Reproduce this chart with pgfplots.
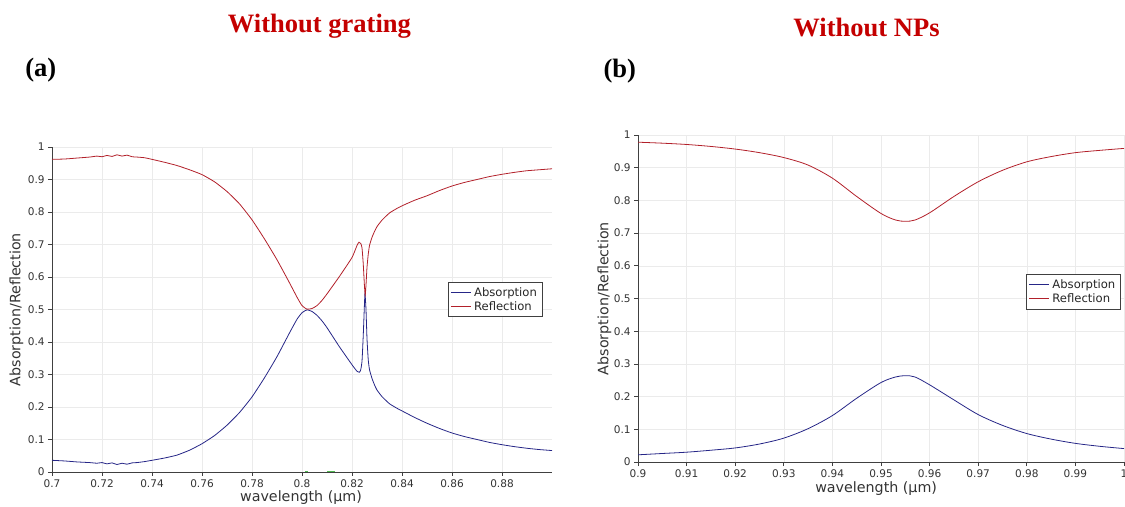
\documentclass[border=0pt]{standalone}
\usepackage{fontspec}
\setmainfont{Liberation Serif}
\newfontfamily\dv{DejaVu Sans}
\usepackage{pgfplots}
\pgfplotsset{compat=1.18}
\usepackage{pgfplotstable}

\definecolor{absblue}{RGB}{38,38,135}
\definecolor{refred}{RGB}{178,32,42}
\definecolor{titlered}{RGB}{196,0,0}
\definecolor{tgreen}{RGB}{80,185,80}

% Spectra without grating
\pgfplotstableread{
wl R
0.700 0.962
0.705 0.963
0.710 0.966
0.715 0.969
0.718 0.972
0.720 0.970
0.722 0.974
0.724 0.971
0.726 0.976
0.728 0.972
0.730 0.975
0.732 0.970
0.734 0.969
0.737 0.967
0.740 0.962
0.745 0.953
0.750 0.943
0.755 0.930
0.760 0.915
0.765 0.893
0.770 0.863
0.775 0.825
0.780 0.776
0.785 0.717
0.790 0.653
0.795 0.582
0.798 0.538
0.800 0.512
0.802 0.501
0.804 0.503
0.806 0.512
0.808 0.528
0.810 0.548
0.815 0.602
0.820 0.660
0.822 0.697
0.8228 0.707
0.8235 0.703
0.824 0.690
0.8245 0.640
0.825 0.570
0.8253 0.545
0.8256 0.575
0.826 0.630
0.8265 0.670
0.827 0.697
0.828 0.722
0.829 0.740
0.830 0.755
0.832 0.775
0.835 0.797
0.838 0.811
0.840 0.819
0.845 0.836
0.850 0.850
0.855 0.866
0.860 0.880
0.865 0.891
0.870 0.900
0.875 0.909
0.880 0.916
0.885 0.922
0.890 0.927
0.895 0.930
0.900 0.933
}\gratR
\pgfplotstableread{
wl A
0.700 0.036
0.705 0.034
0.710 0.031
0.715 0.029
0.718 0.027
0.720 0.029
0.722 0.025
0.724 0.028
0.726 0.023
0.728 0.027
0.730 0.024
0.732 0.028
0.734 0.029
0.737 0.032
0.740 0.036
0.745 0.043
0.750 0.052
0.755 0.067
0.760 0.087
0.765 0.112
0.770 0.144
0.775 0.183
0.780 0.231
0.785 0.290
0.790 0.355
0.795 0.428
0.798 0.470
0.800 0.490
0.802 0.499
0.804 0.494
0.806 0.482
0.808 0.465
0.810 0.444
0.815 0.385
0.820 0.330
0.822 0.310
0.823 0.307
0.8235 0.315
0.824 0.340
0.8245 0.420
0.825 0.520
0.8252 0.550
0.8256 0.500
0.826 0.410
0.8265 0.345
0.827 0.315
0.828 0.288
0.829 0.268
0.830 0.252
0.832 0.232
0.835 0.210
0.838 0.196
0.840 0.188
0.845 0.168
0.850 0.150
0.855 0.134
0.860 0.120
0.865 0.109
0.870 0.100
0.875 0.091
0.880 0.084
0.885 0.078
0.890 0.073
0.895 0.069
0.900 0.066
}\gratA

% Spectra without nanoparticles
\pgfplotstableread{
wl R
0.900 0.978
0.905 0.975
0.910 0.971
0.915 0.965
0.920 0.957
0.925 0.946
0.930 0.931
0.935 0.908
0.940 0.868
0.945 0.812
0.950 0.760
0.953 0.740
0.955 0.736
0.957 0.740
0.960 0.762
0.965 0.812
0.970 0.857
0.975 0.892
0.980 0.918
0.985 0.934
0.990 0.946
0.995 0.953
1.000 0.959
}\npR
\pgfplotstableread{
wl A
0.900 0.022
0.905 0.026
0.910 0.030
0.915 0.036
0.920 0.043
0.925 0.055
0.930 0.073
0.935 0.102
0.940 0.142
0.945 0.195
0.950 0.243
0.953 0.260
0.955 0.264
0.957 0.260
0.960 0.236
0.965 0.190
0.970 0.145
0.975 0.112
0.980 0.087
0.985 0.070
0.990 0.057
0.995 0.048
1.000 0.041
}\npA

\pgfplotsset{
  spec/.style={
    scale only axis,
    anchor=south west,
    axis x line*=bottom,
    axis y line*=left,
    axis line style={-, black!75, line width=0.6pt},
    tick style={black!75, line width=0.5pt},
    tick align=outside,
    major tick length=3pt,
    grid=major,
    major grid style={black!8, line width=0.4pt},
    ymin=0, ymax=1,
    ytick={0,0.1,0.2,0.3,0.4,0.5,0.6,0.7,0.8,0.9,1},
    /pgf/number format/assume math mode=true,
    /pgf/number format/fixed,
    /pgf/number format/precision=2,
    ticklabel style={font=\dv\fontsize{7.9}{9}\selectfont, text=black!80},
    xticklabel style={yshift=1pt},
    yticklabel style={xshift=1pt},
    label style={font=\dv\fontsize{10.7}{12}\selectfont, text=black!80},
    ylabel={Absorption/Reflection},
    xlabel={wavelength (µm)},
    legend style={font=\dv\fontsize{8.7}{10}\selectfont, draw=black!75,
      line width=0.5pt, fill=white, inner xsep=2pt, inner ysep=1.5pt,
      row sep=-1.5pt, anchor=north west, text=black!85},
    legend cell align=left,
    legend image code/.code={\draw[#1, line width=0.7pt] (0pt,0pt) -- (15pt,0pt);},
    every axis plot/.append style={line width=0.6pt},
  }
}

\begin{document}
\begin{tikzpicture}
\useasboundingbox (0,0) rectangle (843.75pt,380.25pt);

% panel (a)
\begin{axis}[spec,
  at={(39pt,26.25pt)}, width=375pt, height=243.75pt,
  xmin=0.7, xmax=0.9,
  xtick={0.7,0.72,0.74,0.76,0.78,0.8,0.82,0.84,0.86,0.88},
  xlabel style={at={(axis description cs:0.498,-0.08)}, anchor=center},
  ylabel style={at={(axis description cs:-0.071,0.5)}, anchor=center, rotate=0},
  legend style={at={(axis description cs:0.791,0.584)}},
]
\addplot[absblue, smooth, tension=0.3] table[x=wl, y=A] {\gratA};
\addlegendentry{Absorption}
\addplot[refred, smooth, tension=0.3] table[x=wl, y=R] {\gratR};
\addlegendentry{Reflection}
\addplot[tgreen, line width=1pt, forget plot] coordinates {(0.8012,0.002) (0.8024,0.002)};
\addplot[tgreen, line width=1pt, forget plot] coordinates {(0.8100,0.002) (0.8132,0.002)};
\end{axis}

% panel (b)
\begin{axis}[spec,
  at={(478.5pt,33.75pt)}, width=364.5pt, height=245.25pt,
  xmin=0.9, xmax=1.0,
  xtick={0.9,0.91,0.92,0.93,0.94,0.95,0.96,0.97,0.98,0.99,1},
  xlabel style={at={(axis description cs:0.49,-0.08)}, anchor=center},
  ylabel style={at={(axis description cs:-0.069,0.5)}, anchor=center, rotate=0},
  legend style={at={(axis description cs:0.798,0.574)}},
]
\addplot[absblue, smooth] table[x=wl, y=A] {\npA};
\addlegendentry{Absorption}
\addplot[refred, smooth] table[x=wl, y=R] {\npR};
\addlegendentry{Reflection}
\end{axis}

% titles and panel letters
\node[anchor=base, text=titlered, font=\bfseries\fontsize{19.9}{22}\selectfont]
  at (239.6pt,355.5pt) {Without grating};
\node[anchor=base, text=titlered, font=\bfseries\fontsize{19.9}{22}\selectfont]
  at (649.9pt,352.5pt) {Without NPs};
\node[anchor=base west, inner sep=0pt, font=\bfseries\fontsize{19.9}{22}\selectfont]
  at (18.75pt,322.5pt) {(a)};
\node[anchor=base west, inner sep=0pt, font=\bfseries\fontsize{19.9}{22}\selectfont]
  at (452.5pt,321.75pt) {(b)};
\end{tikzpicture}
\end{document}
